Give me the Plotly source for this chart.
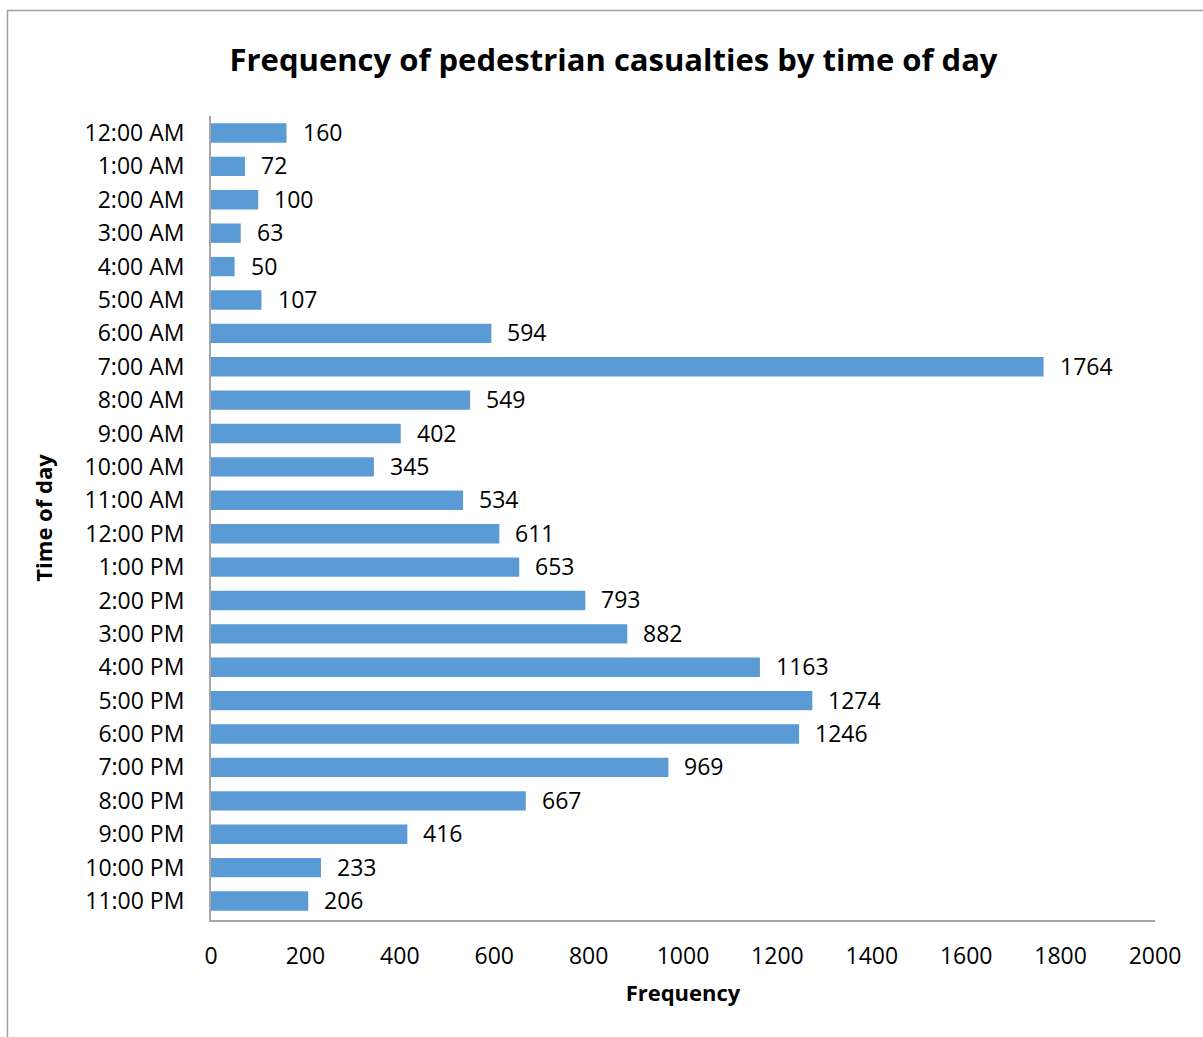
import plotly.graph_objects as go

# Hour-of-day categories and casualty counts
hours = ["12:00 AM", "1:00 AM", "2:00 AM", "3:00 AM", "4:00 AM", "5:00 AM",
         "6:00 AM", "7:00 AM", "8:00 AM", "9:00 AM", "10:00 AM", "11:00 AM",
         "12:00 PM", "1:00 PM", "2:00 PM", "3:00 PM", "4:00 PM", "5:00 PM",
         "6:00 PM", "7:00 PM", "8:00 PM", "9:00 PM", "10:00 PM", "11:00 PM"]
casualties = [160, 72, 100, 63, 50, 107, 594, 1764, 549, 402, 345, 534,
              611, 653, 793, 882, 1163, 1274, 1246, 969, 667, 416, 233, 206]
x_ticks = [0, 200, 400, 600, 800, 1000, 1200, 1400, 1600, 1800, 2000]

FONT = "Open Sans, Liberation Sans, sans-serif"
LABEL_SIZE = 23
BAR_COLOR = "#5b9bd5"
AXIS_COLOR = "#a6a6a6"

fig = go.Figure(go.Bar(
    x=casualties,
    y=hours,
    orientation="h",
    marker=dict(color=BAR_COLOR, line=dict(width=0)),
    hoverinfo="x+y",
))

# Value labels sitting just past the end of each bar
for h, v in zip(hours, casualties):
    fig.add_annotation(
        x=v, y=h, xref="x", yref="y",
        text=str(v), showarrow=False,
        xanchor="left", yanchor="middle",
        xshift=14, yshift=1,
        font=dict(family=FONT, size=LABEL_SIZE, color="#000000"),
    )

# Outer chart frame
fig.add_shape(
    type="rect", xref="paper", yref="paper",
    x0=-0.2156, x1=1.06, y0=-0.16, y1=1.1312,
    line=dict(color="#a0a0a0", width=1.5),
    fillcolor="rgba(0,0,0,0)", layer="below",
)

fig.update_layout(
    width=1203, height=1037,
    margin=dict(l=211, r=48, t=116, b=117),
    paper_bgcolor="white", plot_bgcolor="white",
    bargap=0.42,
    showlegend=False,
    font=dict(family=FONT, size=LABEL_SIZE, color="#000000"),
    title=dict(
        text="<b>Frequency of pedestrian casualties by time of day</b>",
        x=0.51, xanchor="center", xref="container",
        y=1 - 60 / 1037, yanchor="middle", yref="container",
        font=dict(family=FONT, size=31, color="#000000"),
    ),
    xaxis=dict(
        range=[0, 2000], tickvals=x_ticks,
        showgrid=False, zeroline=False,
        showline=True, linecolor=AXIS_COLOR, linewidth=2,
        ticks="", ticklabelstandoff=14,
        tickfont=dict(family=FONT, size=LABEL_SIZE),
        title=dict(text="<b>Frequency</b>", standoff=16,
                   font=dict(family=FONT, size=22)),
        fixedrange=True,
    ),
    yaxis=dict(
        autorange="reversed",
        showgrid=False, zeroline=False,
        showline=True, linecolor=AXIS_COLOR, linewidth=2,
        ticks="", ticklabelstandoff=20,
        tickfont=dict(family=FONT, size=LABEL_SIZE),
        title=dict(text="<b>Time of day</b>", standoff=26,
                   font=dict(family=FONT, size=22)),
        fixedrange=True,
    ),
)

fig.write_html("out.html")
